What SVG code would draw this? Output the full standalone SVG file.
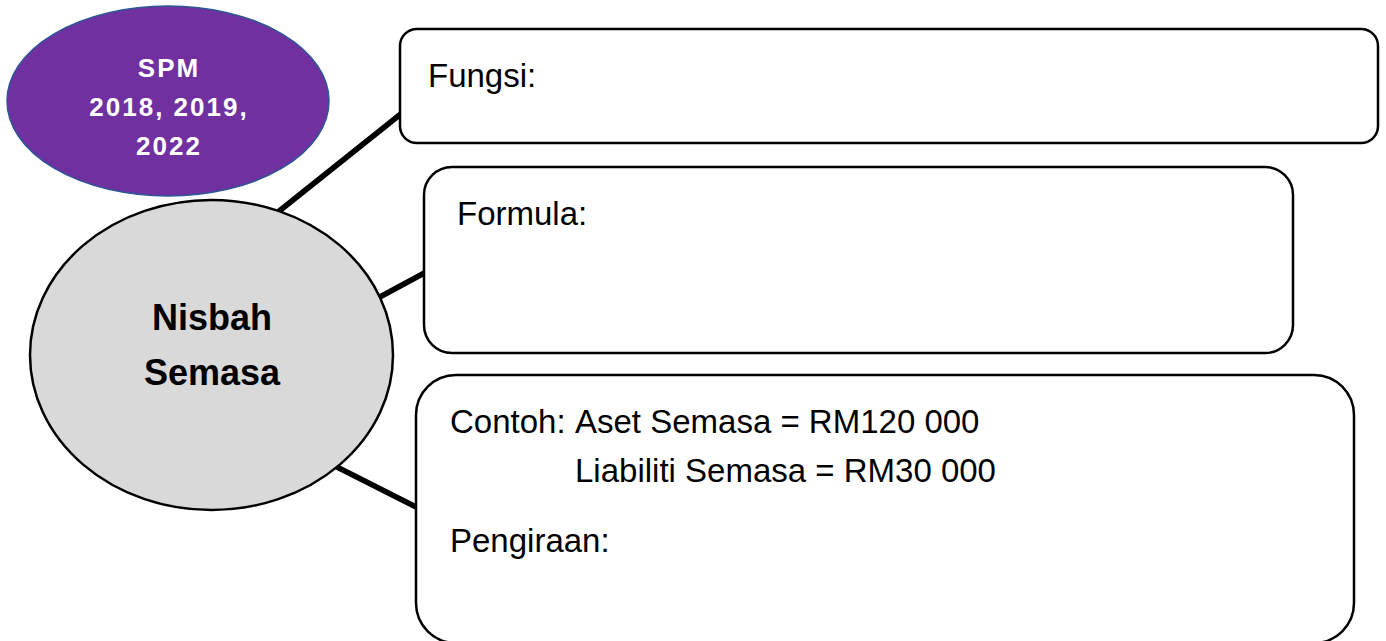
<svg xmlns="http://www.w3.org/2000/svg" width="1386" height="641" viewBox="0 0 1386 641">
<style>
.box{fill:#fff;stroke:#000;stroke-width:2.5}
.conn{stroke:#000;stroke-width:5.5;stroke-linecap:butt}
.t{font-family:"Liberation Sans",Arial,sans-serif;font-size:33px;fill:#000}
.b{font-family:"Liberation Sans",Arial,sans-serif;font-weight:bold;font-size:36px;fill:#000;text-anchor:middle}
.w{font-family:"Liberation Sans",Arial,sans-serif;font-weight:bold;font-size:26px;fill:#fff;text-anchor:middle;letter-spacing:2px}
</style>
<rect width="1386" height="641" fill="#fff"/>
<g id="connectors">
<line class="conn" x1="278" y1="212" x2="402" y2="113"/>
<line class="conn" x1="378" y1="298" x2="428" y2="271"/>
<line class="conn" x1="335" y1="466" x2="418" y2="508"/>
</g>
<g id="spm">
<ellipse cx="168" cy="101" rx="161" ry="95" fill="#7030A0" stroke="#2F5597" stroke-width="1.5"/>
<text class="w" x="169" y="77">SPM</text>
<text class="w" x="169" y="116">2018, 2019,</text>
<text class="w" x="169" y="155">2022</text>
</g>
<g id="nisbah-semasa">
<ellipse cx="211.5" cy="355" rx="181.5" ry="155" fill="#D9D9D9" stroke="#000" stroke-width="2.5"/>
<text class="b" x="212" y="330">Nisbah</text>
<text class="b" x="212" y="385">Semasa</text>
</g>
<g id="fungsi">
<rect class="box" x="400" y="29" width="978" height="114" rx="17"/>
<text class="t" x="428" y="87">Fungsi:</text>
</g>
<g id="formula">
<rect class="box" x="424" y="167" width="869" height="186" rx="28"/>
<text class="t" x="457" y="225">Formula:</text>
</g>
<g id="contoh">
<rect class="box" x="416" y="375" width="938" height="268" rx="40"/>
<text class="t" x="450" y="433">Contoh:</text>
<text class="t" x="575" y="433">Aset Semasa = RM120 000</text>
<text class="t" x="575" y="482">Liabiliti Semasa = RM30 000</text>
<text class="t" x="450" y="552">Pengiraan:</text>
</g>
</svg>
